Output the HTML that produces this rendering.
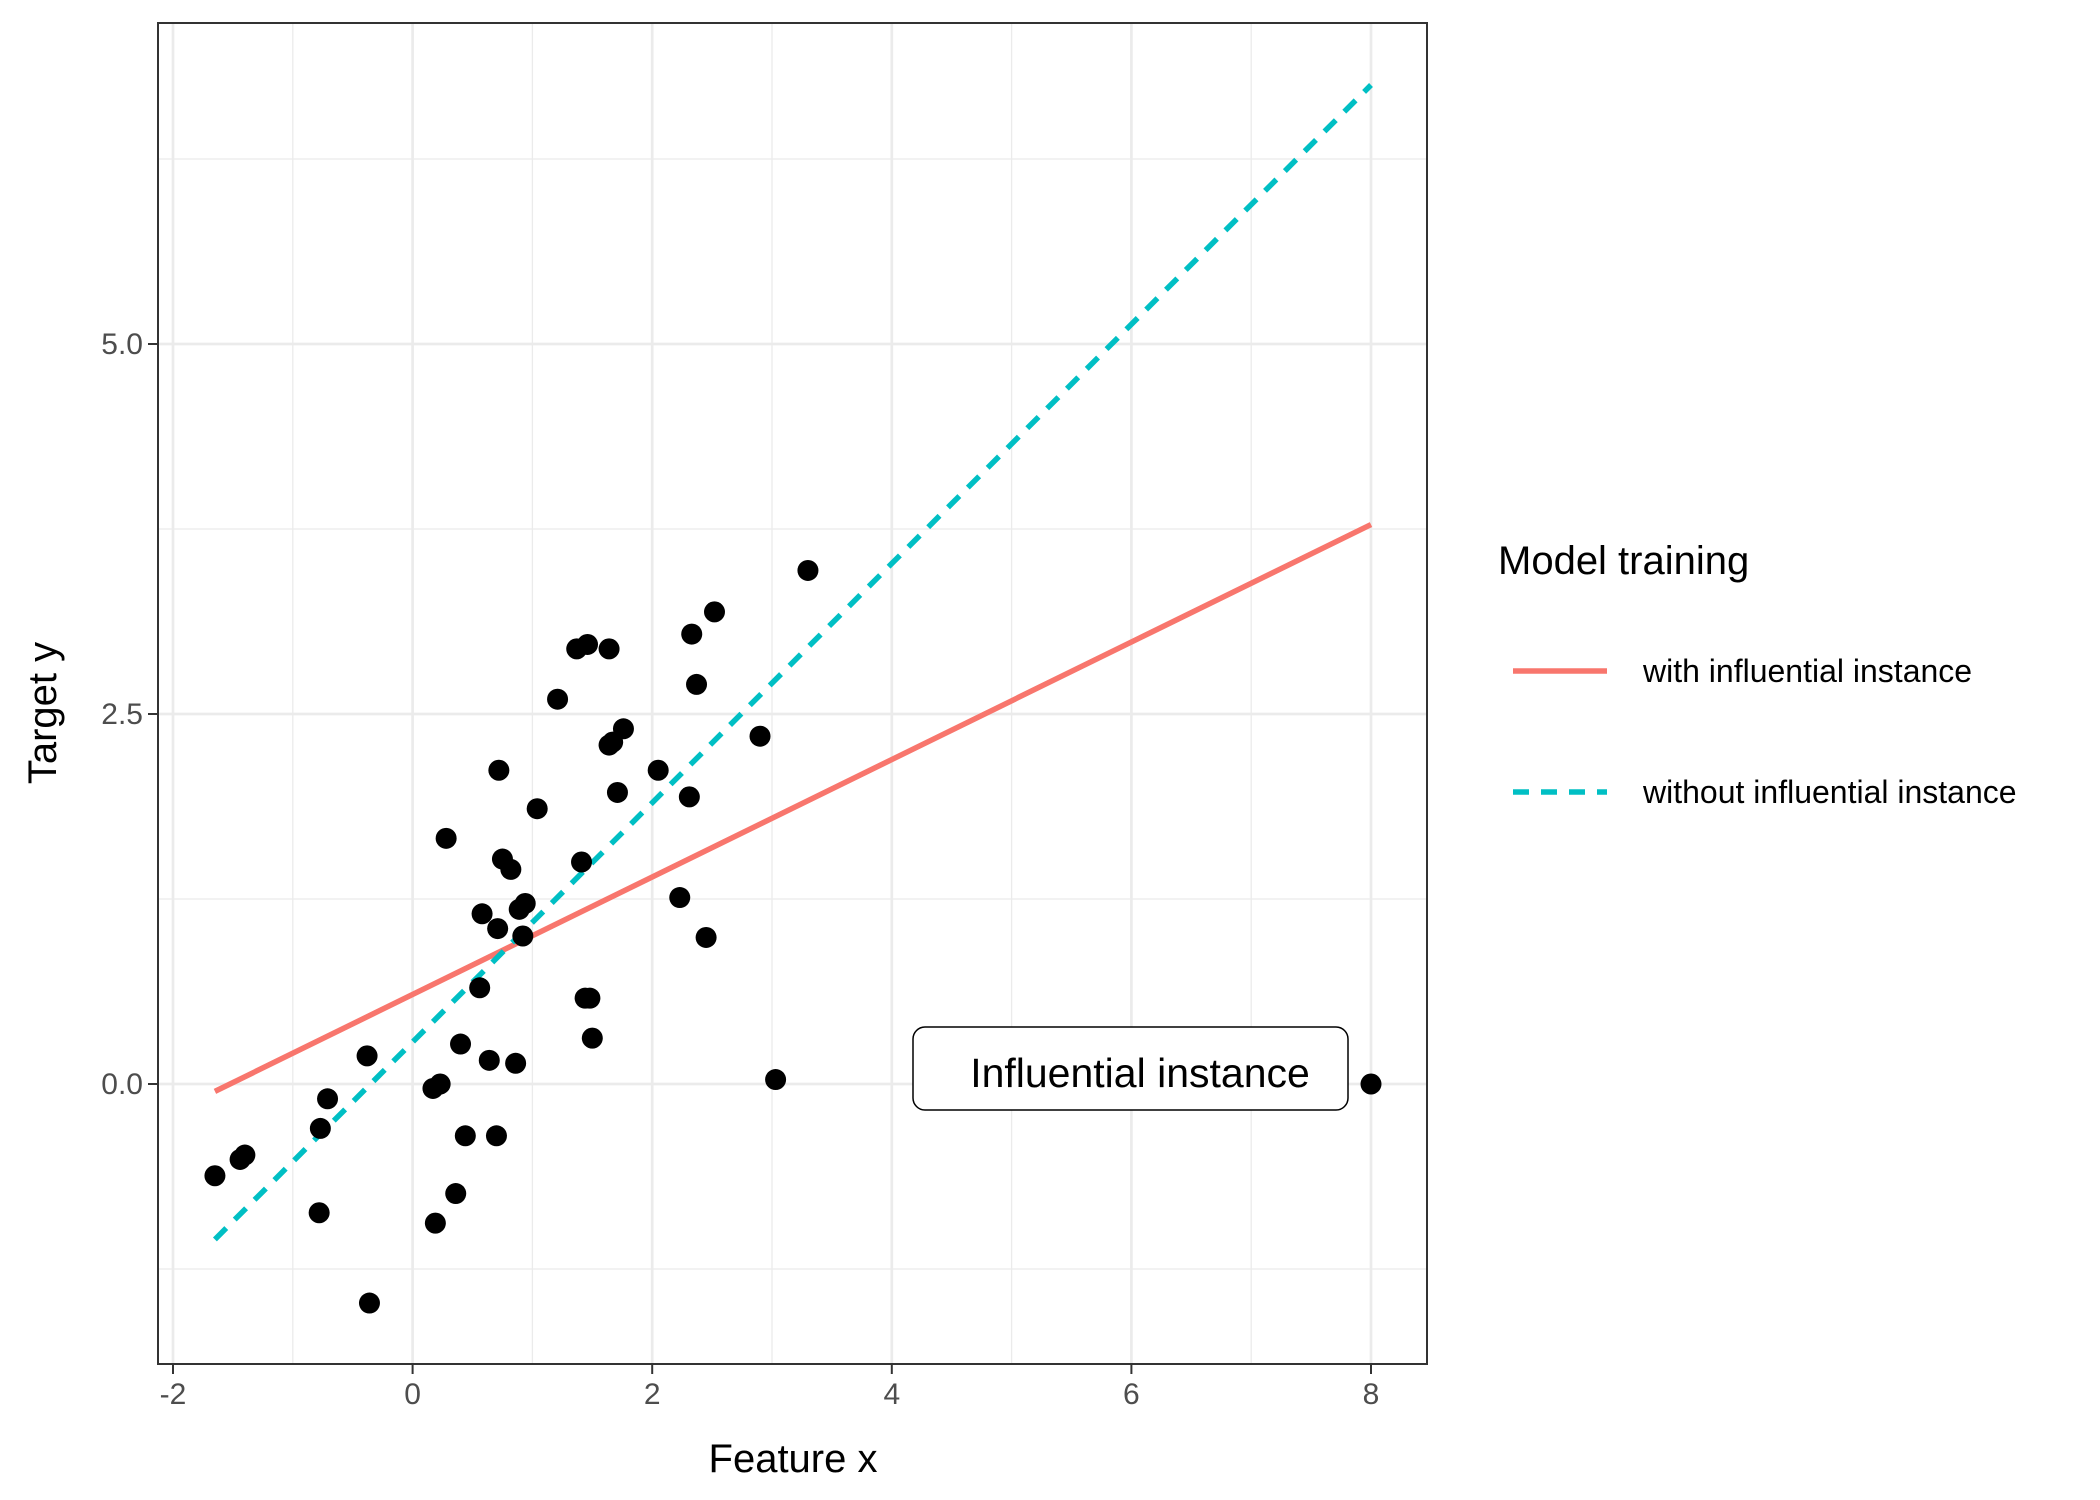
<!DOCTYPE html>
<html><head><meta charset="utf-8"><style>body{margin:0;background:#fff}svg{display:block;font-family:"Liberation Sans",Arial,sans-serif}</style></head>
<body>
<svg id="chart" width="2100" height="1500" xmlns="http://www.w3.org/2000/svg"></svg>
<script>
const xs=[-1.65,-1.44,-1.40,-0.77,-0.71,-0.78,-0.38,-0.36,0.17,0.23,0.19,0.28,0.36,0.40,0.44,0.56,0.58,0.64,0.70,0.71,0.72,0.75,0.82,0.86,0.89,0.94,0.92,1.04,1.21,1.37,1.41,1.46,1.44,1.48,1.50,1.64,1.64,1.67,1.71,1.76,2.05,2.23,2.31,2.33,2.37,2.45,2.52,2.90,3.03,3.30,8.0];
const ys=[-0.62,-0.51,-0.48,-0.30,-0.10,-0.87,0.19,-1.48,-0.03,0.00,-0.94,1.66,-0.74,0.27,-0.35,0.65,1.15,0.16,-0.35,1.05,2.12,1.52,1.45,0.14,1.18,1.22,1.00,1.86,2.60,2.94,1.50,2.97,0.58,0.58,0.31,2.94,2.29,2.31,1.97,2.40,2.12,1.26,1.94,3.04,2.70,0.99,3.19,2.35,0.03,3.47,0.00];
const withLine=[[-1.65,-0.05],[8.0,3.78]];
const withoutLine=[[-1.65,-1.05],[8.0,6.75]];
const xTicks=[-2,0,2,4,6,8];
const yTicks=[0,2.5,5];
const yTickLabels=["0.0","2.5","5.0"];
const xMinor=[-1,1,3,5,7];
const yMinor=[-1.25,1.25,3.75,6.25];

const L=158,R=1427,T=23,B=1364;
const X=v=>173+(v+2)*119.8;
const Y=v=>1084-v*148;
const svg=document.getElementById('chart');
const NS='http://www.w3.org/2000/svg';
function mk(tag,attrs,parent){const e=document.createElementNS(NS,tag);for(const k in attrs)e.setAttribute(k,attrs[k]);(parent||svg).appendChild(e);return e;}
const grid=mk('g',{});


xMinor.forEach(v=>mk('line',{x1:X(v),x2:X(v),y1:T,y2:B,stroke:'#ebebeb','stroke-width':1.3},grid));
yMinor.forEach(v=>mk('line',{x1:L,x2:R,y1:Y(v),y2:Y(v),stroke:'#ebebeb','stroke-width':1.3},grid));
xTicks.forEach(v=>mk('line',{x1:X(v),x2:X(v),y1:T,y2:B,stroke:'#ebebeb','stroke-width':2.7},grid));
yTicks.forEach(v=>mk('line',{x1:L,x2:R,y1:Y(v),y2:Y(v),stroke:'#ebebeb','stroke-width':2.7},grid));
// lines
const l1=mk('line',{x1:X(withLine[0][0]),y1:Y(withLine[0][1]),x2:X(withLine[1][0]),y2:Y(withLine[1][1]),stroke:'#F8766D','stroke-width':5.5});


const l2=mk('line',{x1:X(withoutLine[0][0]),y1:Y(withoutLine[0][1]),x2:X(withoutLine[1][0]),y2:Y(withoutLine[1][1]),stroke:'#00BFC4','stroke-width':5.5,'stroke-dasharray':'16 12'});


// points
const pts=mk('g',{});


xs.forEach((v,i)=>{const c=mk('circle',{cx:X(v),cy:Y(ys[i]),r:10.5,fill:'#000'},pts);

});
// label
const lb=mk('g',{});


mk('rect',{x:913,y:1027,width:435,height:83,rx:12,fill:'#fff',stroke:'#000','stroke-width':1.5},lb);
mk('text',{x:1140,y:1087,'font-size':41,'text-anchor':'middle',fill:'#000'},lb).textContent='Influential instance';
// panel border
const pb=mk('rect',{x:L,y:T,width:R-L,height:B-T,fill:'none',stroke:'#333','stroke-width':2});


// axes ticks
const xa=mk('g',{});


xTicks.forEach(v=>{mk('line',{x1:X(v),x2:X(v),y1:B,y2:B+10,stroke:'#333','stroke-width':2},xa);
mk('text',{x:X(v),y:B+40,'font-size':30,'text-anchor':'middle',fill:'#4d4d4d'},xa).textContent=v;});
const ya=mk('g',{});


yTicks.forEach((v,i)=>{mk('line',{x1:L-10,x2:L,y1:Y(v),y2:Y(v),stroke:'#333','stroke-width':2},ya);
mk('text',{x:L-15,y:Y(v)+10,'font-size':30,'text-anchor':'end',fill:'#4d4d4d'},ya).textContent=yTickLabels[i];});
const xt=mk('text',{x:793,y:1472,'font-size':40,'text-anchor':'middle',fill:'#000'});
xt.textContent='Feature x';


const yt=mk('text',{x:56,y:713,'font-size':40,'text-anchor':'middle',fill:'#000',transform:'rotate(-90 56 713)'});
yt.textContent='Target y';


// legend
const lg=mk('g',{});


mk('text',{x:1498,y:574,'font-size':40,fill:'#000'},lg).textContent='Model training';
mk('line',{x1:1513,x2:1607,y1:671,y2:671,stroke:'#F8766D','stroke-width':5.5},lg);
mk('text',{x:1643,y:682,'font-size':32,fill:'#000'},lg).textContent='with influential instance';
mk('line',{x1:1513,x2:1607,y1:792,y2:792,stroke:'#00BFC4','stroke-width':5.5,'stroke-dasharray':'16 12'},lg);
mk('text',{x:1643,y:803,'font-size':32,fill:'#000'},lg).textContent='without influential instance';
</script>
</body></html>
